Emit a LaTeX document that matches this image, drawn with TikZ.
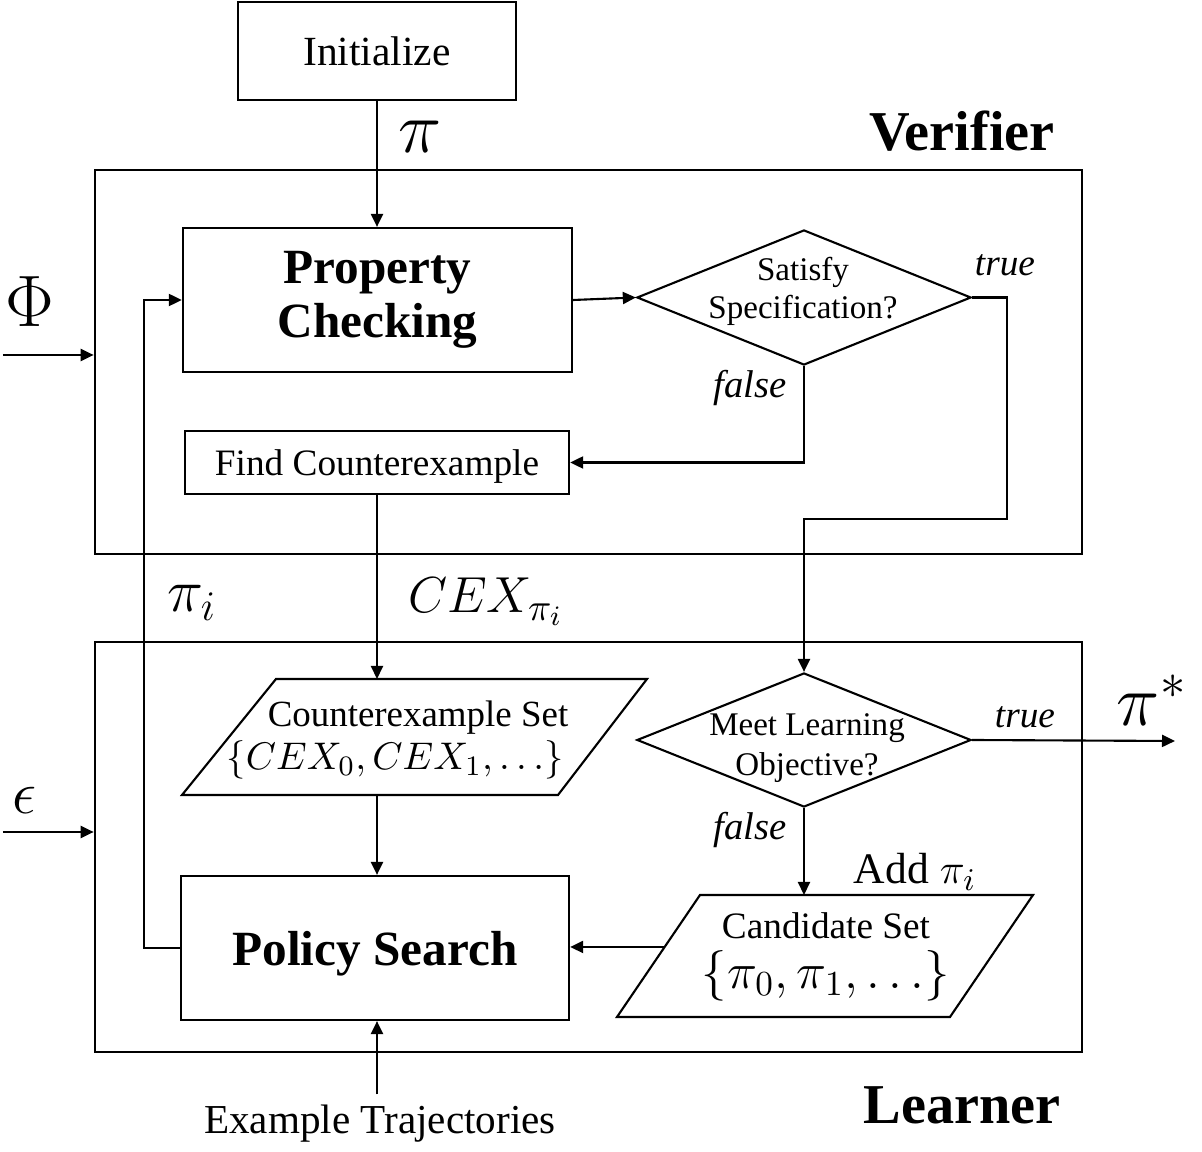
\documentclass[tikz,border=0pt]{standalone}
\usepackage[no-math]{fontspec}
\setmainfont{Liberation Serif}
\usetikzlibrary{shapes.geometric,arrows.meta,calc}

\newcommand{\fsz}[2]{\fontsize{#1}{#2}\selectfont}

\begin{document}
\begin{tikzpicture}[x=0.01cm, y=-0.01cm, line width=0.6pt,
    >={Triangle[length=1.3mm,width=1.2mm]},
    blk/.style={draw, rectangle, inner sep=0pt, align=center},
    dec/.style={draw, diamond, inner sep=0pt, minimum width=3.34cm, minimum height=1.35cm},
    lbl/.style={inner sep=0pt, align=center}]
  \useasboundingbox (0,0) rectangle (1202,1152);

  % outer frames
  \node[blk, minimum width=9.87cm, minimum height=3.84cm] (verif) at (588.5,362) {};
  \node[blk, minimum width=9.87cm, minimum height=4.10cm] (learn) at (588.5,847) {};

  % verifier part
  \node[blk, minimum width=2.78cm, minimum height=0.98cm, font=\fsz{11.8}{14}] (init) at (377,51) {Initialize};
  \node[blk, minimum width=3.89cm, minimum height=1.44cm, font=\bfseries\fsz{14}{15.5}] (prop) at (377.5,300) {Property\\Checking};
  \node[dec] (sat) at (804,297.5) {};
  \node[lbl, font=\fsz{9.4}{10.8}] (sattxt) at (803,291) {Satisfy\\Specification?};
  \node[blk, minimum width=3.84cm, minimum height=0.63cm, text depth=0pt, font=\fsz{10.6}{12}] (find) at (377,462.5) {Find Counterexample};

  % learner part
  \coordinate (cs1) at (276,679);
  \coordinate (cs2) at (647,679);
  \coordinate (cs3) at (558,795);
  \coordinate (cs4) at (182,795);
  \draw (cs1) -- (cs2) -- (cs3) -- (cs4) -- cycle;
  \node[lbl, font=\fsz{10.5}{12.5}] (cstxt) at (418,740) {Counterexample Set\\{\fsz{11}{12.5}$\{CEX_0, CEX_1, \ldots\}$}\hspace*{0.46cm}};

  \node[dec, minimum height=1.34cm] (meet) at (804,740) {};
  \node[lbl, font=\fsz{9.4}{11.4}] (meettxt) at (807,748) {Meet Learning\\Objective?};

  \coordinate (cd1) at (700,895);
  \coordinate (cd2) at (1033,895);
  \coordinate (cd3) at (950,1017);
  \coordinate (cd4) at (617,1017);
  \draw (cd1) -- (cd2) -- (cd3) -- (cd4) -- cycle;
  \node[lbl, font=\fsz{10.6}{12}] (cdtxt) at (826,957) {Candidate Set\\[2pt]{\fsz{13.9}{15}$\{\pi_0, \pi_1, \ldots\}$}};

  \node[blk, minimum width=3.88cm, minimum height=1.44cm, text depth=0pt, font=\bfseries\fsz{14}{16}] (pol) at (375,948) {Policy Search};
  \node[lbl, font=\fsz{11.7}{14}] (traj) at (380,1124) {Example Trajectories};

  % labels
  \node[lbl, font=\bfseries\fsz{16}{19}] (verlbl) at (962,131) {Verifier};
  \node[lbl, font=\bfseries\fsz{16}{19}] (learnlbl) at (962,1105) {Learner};
  \node[lbl, font=\fsz{20}{24}] (pilbl) at (420,137) {$\pi$};
  \node[lbl, font=\itshape\fsz{10.6}{12}] (true1) at (1005,265) {true};
  \node[lbl, font=\itshape\fsz{11}{13}] (false1) at (750,388) {false};
  \node[lbl, font=\fsz{15.4}{18}] (cexlbl) at (486,602) {$CEX_{\pi_i}$};
  \node[lbl, font=\fsz{18}{21}] (pilbl2) at (192,603) {$\pi_i$};
  \node[lbl, font=\fsz{22}{26}] (philbl) at (30,302) {$\Phi$};
  \node[lbl, font=\fsz{17.6}{20}] (epslbl) at (25,800) {$\epsilon$};
  \node[lbl, font=\itshape\fsz{10.6}{12}] (true2) at (1025,717) {true};
  \node[lbl, font=\fsz{20}{24}] (pistar) at (1152,700) {$\pi^*$};
  \node[lbl, font=\itshape\fsz{11}{13}] (false2) at (750,830) {false};
  \node[lbl, font=\fsz{12.4}{14}] (addlbl) at (915,872) {Add $\pi_i$};

  \coordinate (phiin) at (3,355);
  \coordinate (epsin) at (3,832);
  \coordinate (trueturn) at (1007,519);
  \coordinate (piout) at (1175,741);
  \coordinate (cdin) at ($(cd4)!0.574!(cd1)$);

  % connectors
  \draw[->] (init.south) -- (init.south |- prop.north);
  \draw[->] (prop.east) -- (sat.west);
  \draw[->] (sat.east) -| (trueturn) -| (meet.north);
  \draw[->] (sat.south) |- (find.east);
  \draw[->] (find.south) -- (find.south |- cs1);
  \draw[->] (find.south |- cs4) -- (find.south |- pol.north);
  \draw[->] (pol.west) -- ++(-36,0) |- (prop.west);
  \draw[->] (meet.east) -- (piout);
  \draw[->] (meet.south) -- (meet.south |- cd1);
  \draw[->] (cdin) -- (pol.east |- cdin);
  \draw[->] (phiin) -- (verif.west |- phiin);
  \draw[->] (epsin) -- (learn.west |- epsin);
  \draw[->, shorten <=1mm] (find.south |- traj.north) -- (find.south |- pol.south);
\end{tikzpicture}
\end{document}
